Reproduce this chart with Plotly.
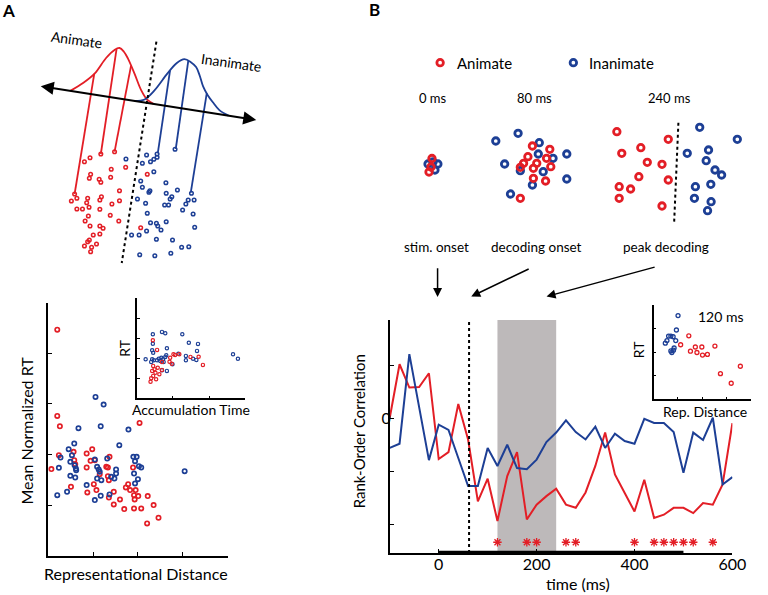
import numpy as np
import plotly.graph_objects as go

W, H = 768, 595
RED = '#e31e26'
BLUE = '#1d3f95'
FONT = 'Lato, Open Sans, sans-serif'

# ---------------- Panel B main: rank-order correlation time course ----------------
time_ms = list(range(-100, 601, 20))
corr_animate = [0.002, 0.103, 0.059, 0.060, 0.086, -0.076, -0.063, 0.028, -0.039, -0.156,
                -0.113, -0.193, -0.108, -0.063, -0.190, -0.162, -0.146, -0.132, -0.162, -0.168,
                -0.139, -0.089, -0.026, -0.105, -0.140, -0.175, -0.115, -0.187, -0.181, -0.168,
                -0.168, -0.178, -0.159, -0.162, -0.124, -0.008]
corr_inanimate = [-0.055, -0.047, 0.122, 0.024, -0.078, -0.011, -0.021, -0.074, -0.127, -0.127,
                  -0.055, -0.089, -0.049, -0.093, -0.095, -0.077, -0.044, -0.026, -0.003, -0.025,
                  -0.039, -0.015, -0.055, -0.028, -0.042, -0.047, 0.000, -0.008, -0.008, -0.025,
                  -0.102, -0.026, -0.040, 0.002, -0.124, -0.110]
sig_times = [120, 180, 200, 260, 280, 400, 440, 460, 480, 500, 520, 560]
sig_level = -0.233
peak_window = [120, 240]
onset_line_ms = 62
stim_bar = [0, 500]
y_range_B = [-0.2533, 0.1865]
x_ticks_B = [0, 200, 400, 600]

# ---------------- Panel B inset (120 ms) ----------------
insB_blue_x = [1.004, 0.937, 0.616, 0.710, 0.803, 0.549, 0.910, 0.482, 0.843, 0.817, 0.750, 0.710]
insB_blue_y = [3.551, 2.939, 2.680, 2.680, 2.653, 2.490, 2.490, 2.381, 2.177, 2.082, 1.986, 2.054]
insB_red_x = [1.446, 1.111, 1.714, 1.981, 2.517, 1.513, 1.780, 2.008, 2.209, 2.744, 3.561, 3.186]
insB_red_y = [2.694, 2.313, 2.218, 2.218, 2.259, 2.041, 1.986, 1.878, 1.905, 1.088, 1.401, 0.680]

# ---------------- Panel A bottom: RT vs representational distance ----------------
A_red_x = [0.204, 0.204, 0.262, 0.240, 0.073, 0.567, 0.582, 0.604, 0.509, 0.858, 0.982, 1.040,
           0.945, 0.858, 1.018, 1.076, 0.873, 1.149, 1.331, 1.367, 1.331, 1.353, 1.353, 1.462,
           1.462, 1.600, 1.695, 1.731, 1.782, 1.825, 1.891, 1.913, 1.927, 1.913, 1.949, 2.073,
           2.007, 2.036, 2.218, 2.204, 2.349, 2.458, 1.295]
A_red_y = [4.467, 2.763, 2.559, 1.987, 1.711, 2.053, 1.888, 1.809, 1.362, 2.020, 2.105, 1.888,
           1.875, 1.743, 1.414, 1.296, 1.250, 1.612, 1.743, 1.954, 1.572, 1.493, 1.151, 1.013,
           1.263, 1.112, 0.921, 1.349, 1.414, 1.296, 1.743, 1.197, 1.112, 0.934, 1.296, 0.934,
           1.178, 2.625, 1.178, 0.638, 1.000, 0.750, 1.757]
A_blue_x = [1.055, 1.236, 1.171, 0.676, 1.789, 1.585, 0.582, 0.458, 0.531, 0.276, 0.495, 0.589,
            0.618, 0.625, 0.240, 0.495, 0.604, 0.204, 0.422, 0.858, 1.040, 1.171, 1.367, 1.091,
            1.127, 1.149, 1.185, 1.091, 1.316, 1.404, 1.513, 1.513, 1.476, 1.898, 1.971, 1.935,
            2.022, 2.073, 1.913, 2.000, 1.935, 3.040, 1.040]
A_blue_y = [3.138, 2.987, 2.559, 2.520, 2.493, 2.184, 2.217, 2.105, 1.987, 1.941, 1.855, 1.789,
            1.724, 1.691, 1.737, 1.579, 1.546, 1.197, 1.263, 1.395, 1.099, 1.184, 1.211, 1.757,
            1.704, 1.658, 1.493, 1.526, 1.921, 1.559, 1.704, 1.625, 1.526, 1.954, 1.954, 1.868,
            1.770, 1.743, 1.625, 1.513, 1.428, 1.671, 1.901]

# ---------------- Panel A inset: RT vs accumulation time ----------------
insA_blue_x = [0.444, 0.696, 0.787, 1.257, 1.437, 1.690, 0.444, 0.425, 0.453, 0.832, 0.245, 0.425,
               0.471, 0.398, 0.561, 0.606, 0.651, 0.678, 0.724, 0.742, 0.787, 0.696, 0.832, 0.814,
               1.148, 1.356, 1.356, 1.555, 1.645, 1.663, 2.657, 2.792, 0.986]
insA_blue_y = [3.20, 3.32, 3.25, 3.20, 2.78, 2.72, 2.73, 2.40, 2.28, 2.50, 1.95, 1.95,
               1.90, 1.82, 1.90, 1.98, 1.87, 2.03, 1.95, 1.82, 2.07, 1.40, 1.37, 2.15,
               2.23, 2.12, 1.90, 1.98, 1.92, 2.37, 2.20, 1.98, 1.70]
insA_red_x = [0.444, 0.561, 0.922, 1.013, 1.058, 1.175, 1.482, 1.708, 1.826, 0.904, 0.967, 0.696,
              0.453, 0.489, 0.425, 0.516, 0.453, 0.398, 0.380, 0.534, 0.624, 0.696, 0.579]
insA_red_y = [2.90, 2.42, 2.03, 2.20, 2.17, 2.20, 2.07, 2.08, 1.67, 1.83, 1.73, 1.82,
              1.62, 1.45, 1.37, 1.28, 1.12, 1.00, 0.83, 0.95, 1.20, 1.42, 1.53]

# ---------------- Schematics (drawn in a page-sized schematic space) ----------------
# Panel A: projection axis, class distributions and exemplars
proj_axis = [(40, 86), (261, 120)]
red_curve_s = [32, 44, 54, 63, 70, 75, 80, 85, 94, 103, 111, 118]
red_curve_h = [0, 10, 21, 38, 47, 50, 47, 41, 27, 12, 3, 0]
blue_curve_s = [98, 108, 117, 127, 135, 142, 149, 155, 160, 165, 171, 177, 185, 195]
blue_curve_h = [0, 3, 14, 32, 44, 49, 47, 43, 35, 25, 17, 11, 4, 0]
red_drop_s = [53.5, 72.2, 89.3]
red_drop_x = [76, 102.7, 116.7]
red_drop_y = [194, 154, 151.7]
blue_drop_s = [129.3, 146.2, 169.7]
blue_drop_x = [160.7, 179, 194.3]
blue_drop_y = [153.3, 149, 192.7]
boundary_A = [(159.3, 41.7), (124, 263)]
schA_red_x = [86, 91.7, 102.7, 116.7, 92.3, 91, 101, 102.7, 113.3, 112.7, 128, 121.7, 76, 72.7,
              78.3, 89.3, 88.3, 101.7, 103.3, 121.7, 114, 78.3, 84, 90.7, 101.7, 112.3, 121, 90,
              86.7, 91.7, 101.7, 105, 101.7, 95, 91, 89.3, 86, 93.3, 92.3, 98.3, 150, 143.3]
schA_red_y = [161.7, 157.7, 154, 151.7, 174.3, 178.3, 179.3, 182.3, 169.3, 177.3, 167.3, 190.7,
              194, 201, 198.3, 198.3, 202.7, 200, 196.7, 200.7, 204, 209, 209, 207.3, 209.3,
              215.3, 221, 216, 221, 226, 226, 228.3, 234, 235, 240, 241.7, 246, 247.3, 251.7,
              244, 174.3, 227.7]
schA_blue_x = [128.3, 149.3, 160, 160, 156.7, 153.3, 145, 178.3, 156.7, 143.3, 169, 145, 152.7,
               151.7, 169.3, 180.7, 175, 173.3, 195, 191.7, 197.7, 189.3, 186, 140, 148.3, 167.7,
               171.7, 150, 196.7, 153.3, 159.3, 160.7, 164, 169.3, 149.3, 141.7, 134, 198.3,
               159.3, 175.7, 185, 192.3, 174, 157.7, 142.3]
schA_blue_y = [159, 155, 154, 157.3, 159.3, 161.7, 163.3, 149.3, 171.7, 181, 182.7, 187.3, 190.7,
               192.3, 193.3, 190, 196.7, 199, 193.3, 200, 200, 204, 210, 199, 203.3, 205, 205,
               213.3, 214, 222.7, 223.3, 226, 230, 221.7, 231, 235, 235, 227.3, 239.3, 240,
               247.3, 246.7, 253.3, 255.7, 254.7]

# Panel B: representational geometry at three time points
clB_red_x = [440, 437, 439,
             542.3, 560, 537.7, 556.7, 533.3, 561, 543.3, 530, 543.3, 555.7, 530, 546.7,
             628.3, 680.7, 652.7, 633.3, 659.3, 674.3, 650.7, 680.7, 630.7, 642.3, 630.7, 674.3]
clB_red_y = [158.5, 172, 167,
             146, 149.3, 156.7, 158.3, 163.3, 166.7, 168.3, 167.3, 178.3, 181, 198.3, 163.3,
             131.7, 139.3, 147.7, 153.3, 162.3, 164.3, 176.7, 180, 186.7, 189, 198.3, 206]
clB_blue_x = [446, 436, 443, 441,
              505, 527.7, 549.3, 514, 530, 553.3, 563.3, 577.3, 577.3, 542.3, 520, 548.3,
              712.7, 751, 700, 721.7, 719.3, 728.3, 735, 708.3, 724, 707.3, 724.3, 720.7]
clB_blue_y = [164, 164, 170, 162,
              141, 133.3, 142.7, 164, 170.7, 171.7, 158.3, 154, 179, 185, 194, 154,
              127.3, 139.3, 153.3, 150, 160.7, 170, 175, 186.7, 184.3, 198.3, 201.7, 210.7]
boundary_B = [(691, 122.7), (686.7, 221.7)]
cluster_labels = ['0 ms', '80 ms', '240 ms']
cluster_label_x = [441.5, 544, 681.5]
event_labels = ['stim. onset', 'decoding onset', 'peak decoding']
event_label_x = [444.5, 546, 678.5]
event_arrows = [((445.7, 266.7), (445.7, 297)), ((540, 268.3), (480, 296.5)), ((668.3, 266.7), (556.7, 296.5))]


def dx(a, b):
    return [a / W, b / W]


def dy(top, bottom):
    return [1 - bottom / H, 1 - top / H]


fig = go.Figure()

# ---- Panel B main ----
fig.add_trace(go.Scatter(x=time_ms, y=corr_animate, mode='lines', line=dict(color=RED, width=2),
                         xaxis='x', yaxis='y', hoverinfo='skip'))
fig.add_trace(go.Scatter(x=time_ms, y=corr_inanimate, mode='lines', line=dict(color=BLUE, width=2),
                         xaxis='x', yaxis='y', hoverinfo='skip'))
fig.add_trace(go.Scatter(x=sig_times, y=[sig_level] * len(sig_times), mode='markers',
                         marker=dict(symbol='asterisk-open', size=7, color=RED, line=dict(color=RED, width=1.3)),
                         xaxis='x', yaxis='y', hoverinfo='skip'))

# ---- Panel B inset ----
ring_small = dict(symbol='circle-open', size=4)
fig.add_trace(go.Scatter(x=insB_blue_x, y=insB_blue_y, mode='markers', xaxis='x2', yaxis='y2',
                         marker=dict(**ring_small, color=BLUE, line=dict(width=1.3, color=BLUE))))
fig.add_trace(go.Scatter(x=insB_red_x, y=insB_red_y, mode='markers', xaxis='x2', yaxis='y2',
                         marker=dict(**ring_small, color=RED, line=dict(width=1.3, color=RED))))

# ---- Panel A bottom ----
fig.add_trace(go.Scatter(x=A_red_x, y=A_red_y, mode='markers', xaxis='x3', yaxis='y3',
                         marker=dict(symbol='circle-open', size=4.3, color=RED, line=dict(width=1.7, color=RED))))
fig.add_trace(go.Scatter(x=A_blue_x, y=A_blue_y, mode='markers', xaxis='x3', yaxis='y3',
                         marker=dict(symbol='circle-open', size=4.3, color=BLUE, line=dict(width=1.7, color=BLUE))))

# ---- Panel A inset ----
fig.add_trace(go.Scatter(x=insA_blue_x, y=insA_blue_y, mode='markers', xaxis='x4', yaxis='y4',
                         marker=dict(symbol='circle-open', size=3.3, color=BLUE, line=dict(width=1.2, color=BLUE))))
fig.add_trace(go.Scatter(x=insA_red_x, y=insA_red_y, mode='markers', xaxis='x4', yaxis='y4',
                         marker=dict(symbol='circle-open', size=3.3, color=RED, line=dict(width=1.2, color=RED))))

# ---- Schematic A ----
(ax0, ay0), (ax1, ay1) = proj_axis
L = np.hypot(ax1 - ax0, ay1 - ay0)
ux, uy = (ax1 - ax0) / L, (ay1 - ay0) / L
mx, my = uy, -ux  # "up" normal in screen space


def to_screen(s, h):
    s = np.asarray(s, float)
    h = np.asarray(h, float)
    return ax0 + s * ux + h * mx, ay0 + s * uy + h * my


for cs, ch, col, ds, ex, ey in [(red_curve_s, red_curve_h, RED, red_drop_s, red_drop_x, red_drop_y),
                               (blue_curve_s, blue_curve_h, BLUE, blue_drop_s, blue_drop_x, blue_drop_y)]:
    cx, cy = to_screen(cs, ch)
    fig.add_trace(go.Scatter(x=cx, y=cy, mode='lines', line=dict(color=col, width=1.8, shape='spline'),
                             xaxis='x5', yaxis='y5', hoverinfo='skip'))
    tops_h = np.interp(ds, cs, ch)
    tx, ty = to_screen(ds, tops_h)
    lx, ly = [], []
    for i in range(len(ds)):
        lx += [tx[i], ex[i], None]
        ly += [ty[i], ey[i], None]
    fig.add_trace(go.Scatter(x=lx, y=ly, mode='lines', line=dict(color=col, width=1.8),
                             xaxis='x5', yaxis='y5', hoverinfo='skip'))

fig.add_trace(go.Scatter(x=[boundary_A[0][0], boundary_A[1][0]], y=[boundary_A[0][1], boundary_A[1][1]],
                         mode='lines', line=dict(color='black', width=2, dash='3px,3px'),
                         xaxis='x5', yaxis='y5', hoverinfo='skip'))
fig.add_trace(go.Scatter(x=schA_red_x, y=schA_red_y, mode='markers', xaxis='x5', yaxis='y5',
                         marker=dict(symbol='circle-open', size=3.6, color=RED, line=dict(width=1.5, color=RED))))
fig.add_trace(go.Scatter(x=schA_blue_x, y=schA_blue_y, mode='markers', xaxis='x5', yaxis='y5',
                         marker=dict(symbol='circle-open', size=3.6, color=BLUE, line=dict(width=1.5, color=BLUE))))

# ---- Schematic B ----
ring_big = dict(symbol='circle-open', size=6.5)
fig.add_trace(go.Scatter(x=[boundary_B[0][0], boundary_B[1][0]], y=[boundary_B[0][1], boundary_B[1][1]],
                         mode='lines', line=dict(color='black', width=2, dash='3px,3px'),
                         xaxis='x5', yaxis='y5', hoverinfo='skip'))
fig.add_trace(go.Scatter(x=clB_blue_x, y=clB_blue_y, mode='markers', xaxis='x5', yaxis='y5',
                         marker=dict(**ring_big, color=BLUE, line=dict(width=2.8, color=BLUE))))
fig.add_trace(go.Scatter(x=clB_red_x, y=clB_red_y, mode='markers', xaxis='x5', yaxis='y5',
                         marker=dict(**ring_big, color=RED, line=dict(width=2.8, color=RED))))
# legend rings
fig.add_trace(go.Scatter(x=[448.3], y=[62.7], mode='markers', xaxis='x5', yaxis='y5',
                         marker=dict(**ring_big, color=RED, line=dict(width=2.8, color=RED))))
fig.add_trace(go.Scatter(x=[584], y=[62.7], mode='markers', xaxis='x5', yaxis='y5',
                         marker=dict(**ring_big, color=BLUE, line=dict(width=2.8, color=BLUE))))

# ---- shapes for panel B ----
shapes = [
    dict(type='rect', xref='x', yref='y domain', x0=peak_window[0], x1=peak_window[1], y0=0, y1=1,
         fillcolor='#bdb9ba', line=dict(width=0), layer='below'),
    dict(type='line', xref='x', yref='y domain', x0=onset_line_ms, x1=onset_line_ms, y0=0, y1=1,
         line=dict(color='black', width=2, dash='3px,3px')),
    dict(type='line', xref='x', yref='y', x0=stim_bar[0], x1=stim_bar[1], y0=y_range_B[0], y1=y_range_B[0],
         line=dict(color='black', width=4.5)),
]

# ---- annotations ----
ann = []


def txt(x, y, s, size=14, angle=0, bold=False, xanchor='center'):
    ann.append(dict(x=x, y=y, xref='x5', yref='y5', text=('<b>%s</b>' % s) if bold else s,
                    showarrow=False, textangle=angle, xanchor=xanchor, yanchor='middle',
                    font=dict(family=FONT, size=size, color='black')))


txt(9, 10, 'A', 17, bold=True)
txt(381, 9, 'B', 17, bold=True)
txt(77.5, 39.5, 'Animate', 14, angle=8)
txt(236, 62.5, 'Inanimate', 14, angle=8)
txt(26, 431, 'Mean Normalized RT', 16, angle=-90)
txt(139, 573, 'Representational Distance', 16)
txt(126, 348, 'RT', 14, angle=-90)
txt(195, 409, 'Accumulation Time', 14)
txt(463, 63, 'Animate', 15, xanchor='left')
txt(598, 63, 'Inanimate', 15, xanchor='left')
for s, x in zip(cluster_labels, cluster_label_x):
    txt(x, 98, s, 13)
for s, x in zip(event_labels, event_label_x):
    txt(x, 247, s, 13.5)
txt(734.7, 316, '120 ms', 14)
txt(650, 350, 'RT', 14, angle=-90)
txt(718, 411, 'Rep. Distance', 14)
txt(588.5, 583, 'time (ms)', 16)
txt(366, 431, 'Rank-Order Correlation', 15, angle=-90)

# projection axis (double-headed arrow)
ann.append(dict(x=ax1, y=ay1, ax=ax0, ay=ay0, xref='x5', yref='y5', axref='x5', ayref='y5',
                showarrow=True, arrowhead=2, startarrowhead=2, arrowside='end+start',
                arrowsize=1.3, startarrowsize=1.3, arrowwidth=2, arrowcolor='black', text=''))
for (p0, p1) in event_arrows:
    ann.append(dict(x=p1[0], y=p1[1], ax=p0[0], ay=p0[1], xref='x5', yref='y5', axref='x5', ayref='y5',
                    showarrow=True, arrowhead=2, arrowsize=1.2, arrowwidth=1.5, arrowcolor='black', text=''))

axis_common = dict(showline=True, linecolor='black', linewidth=1.5, ticks='inside', ticklen=4,
                   tickcolor='black', tickwidth=1, showgrid=False, zeroline=False, mirror=False,
                   tickfont=dict(family=FONT, size=16, color='black'))

fig.update_layout(
    width=W, height=H, margin=dict(l=0, r=0, t=0, b=0),
    paper_bgcolor='white', plot_bgcolor='rgba(0,0,0,0)', showlegend=False,
    shapes=shapes, annotations=ann,
    xaxis=dict(axis_common, domain=dx(397, 746), range=[-100, 600], tickvals=x_ticks_B, anchor='y',
               ticklabelstandoff=-4),
    yaxis=dict(axis_common, domain=dy(320, 553), range=y_range_B, tickvals=[-0.2, -0.1, 0, 0.1],
               ticktext=['', '', '0', ''], anchor='x', ticklabelstandoff=-6),
    xaxis2=dict(axis_common, domain=dx(665.7, 765), range=[0, 4], tickvals=[1, 2, 3], showticklabels=False,
                ticklen=3, anchor='y2'),
    yaxis2=dict(axis_common, domain=dy(305, 399.3), range=[0, 4], tickvals=[1, 2, 3], showticklabels=False,
                ticklen=3, anchor='x2'),
    xaxis3=dict(axis_common, domain=dx(49, 232), range=[0, 4], tickvals=[1, 2, 3], showticklabels=False,
                anchor='y3'),
    yaxis3=dict(axis_common, domain=dy(302.7, 555.7), range=[0, 5], tickvals=[1, 2, 3, 4],
                showticklabels=False, anchor='x3'),
    xaxis4=dict(axis_common, domain=dx(139.3, 250), range=[0, 3], tickvals=[1, 2], showticklabels=False,
                ticklen=3, anchor='y4'),
    yaxis4=dict(axis_common, domain=dy(298.3, 398.3), range=[0, 5], tickvals=[1, 2, 3, 4],
                showticklabels=False, ticklen=3, anchor='x4'),
    xaxis5=dict(domain=[0, 1], range=[0, W], visible=False, anchor='y5'),
    yaxis5=dict(domain=[0, 1], range=[H, 0], visible=False, anchor='x5'),
)

fig.write_html('out.html', config={'displayModeBar': False},
               post_script="document.body.style.margin='0';document.body.style.overflow='hidden';")
